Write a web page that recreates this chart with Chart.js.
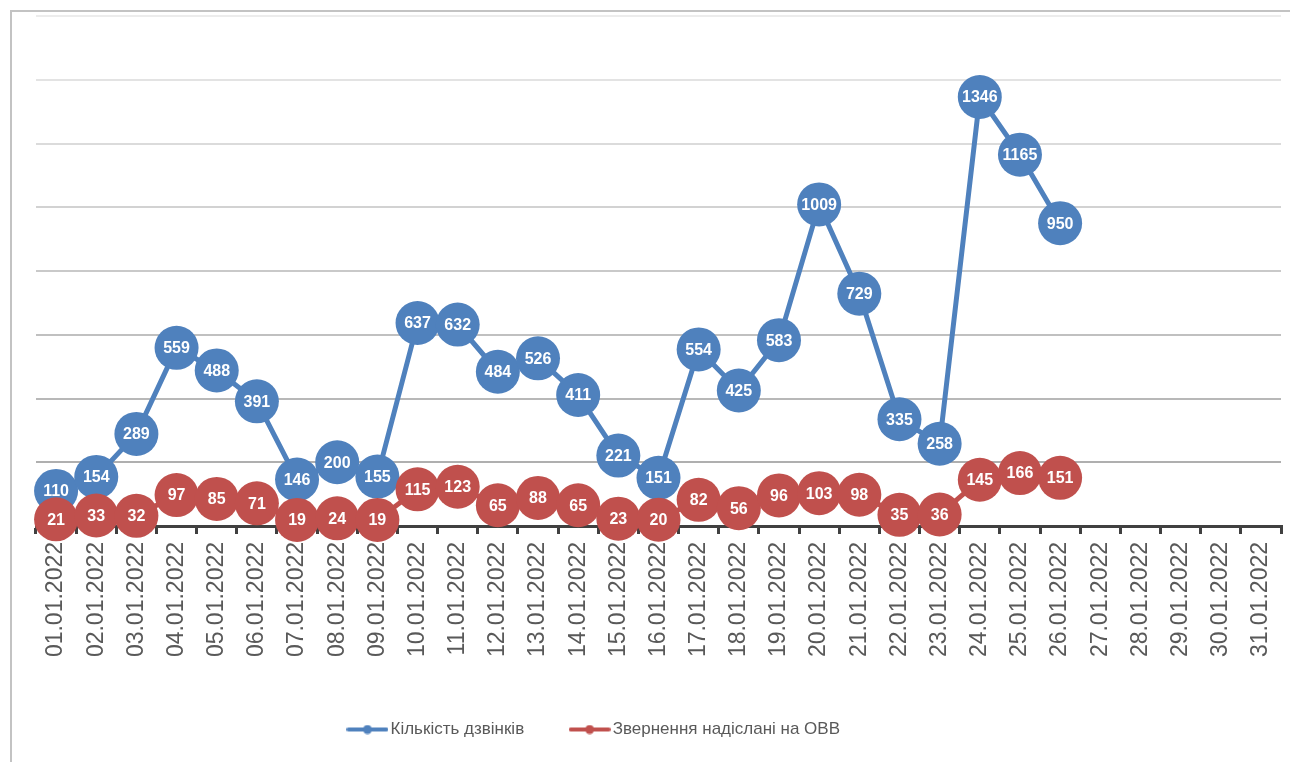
<!DOCTYPE html>
<html>
<head>
<meta charset="utf-8">
<script src="https://cdn.jsdelivr.net/npm/chart.js@4.4.1/dist/chart.umd.min.js"></script>
<style>
    html, body { margin: 0; padding: 0; background: #fff; }
    #frame {
        position: absolute; left: 10px; top: 10px;
        width: 1278px; height: 750px;
        border-left: 2px solid #c3c3c3; border-top: 2px solid #c3c3c3;
    }
    #chart { display: block; }
</style>
</head>
<body>
<div id="frame"><canvas id="chart" width="1278" height="750"></canvas></div>
<script>
// dati
const giorni = [
    '01.01.2022', '02.01.2022', '03.01.2022', '04.01.2022', '05.01.2022', '06.01.2022', '07.01.2022', '08.01.2022',
    '09.01.2022', '10.01.2022', '11.01.2022', '12.01.2022', '13.01.2022', '14.01.2022', '15.01.2022', '16.01.2022',
    '17.01.2022', '18.01.2022', '19.01.2022', '20.01.2022', '21.01.2022', '22.01.2022', '23.01.2022', '24.01.2022',
    '25.01.2022', '26.01.2022', '27.01.2022', '28.01.2022', '29.01.2022', '30.01.2022', '31.01.2022'
];
const dzvinky = [110, 154, 289, 559, 488, 391, 146, 200, 155, 637, 632, 484, 526, 411, 221, 151,
    554, 425, 583, 1009, 729, 335, 258, 1346, 1165, 950, null, null, null, null, null];
const zvernennia = [21, 33, 32, 97, 85, 71, 19, 24, 19, 115, 123, 65, 88, 65, 23, 20,
    82, 56, 96, 103, 98, 35, 36, 145, 166, 151, null, null, null, null, null];
const yMax = 1600;
const yStep = 200;

const BLU = '#4f81bd';
const ROSSO = '#c0504d';

// simbolo legenda: linea con pallino
function simbolo(colore) {
    const c = document.createElement('canvas');
    c.width = 42; c.height = 10;
    const g = c.getContext('2d');
    g.strokeStyle = colore;
    g.lineWidth = 4;
    g.lineCap = 'round';
    g.beginPath(); g.moveTo(2, 5); g.lineTo(40, 5); g.stroke();
    g.fillStyle = colore;
    g.beginPath(); g.arc(21, 5, 4.5, 0, Math.PI * 2); g.fill();
    return c;
}

// etichette dentro i pallini
const etichette = {
    id: 'etichette',
    afterDatasetDraw(chart, args) {
        const ctx = chart.ctx;
        const ds = chart.data.datasets[args.index];
        ctx.save();
        ctx.font = 'bold 16px "Liberation Sans", Arial, sans-serif';
        ctx.fillStyle = '#fff';
        ctx.textAlign = 'center';
        ctx.textBaseline = 'middle';
        args.meta.data.forEach((p, i) => {
            const v = ds.data[i];
            if (v === null || v === undefined) return;
            ctx.fillText(String(v), p.x, p.y + 1);
        });
        ctx.restore();
    }
};

// sposta la legenda come nell'originale
const spostaLegenda = {
    id: 'spostaLegenda',
    afterLayout(chart) {
        const l = chart.legend;
        if (!l) return;
        l.left -= 62;
        l.right -= 62;
    }
};

function grigio(v) {
    const g = Math.round(166 + (v / yMax) * (236 - 166));
    return `rgb(${g},${g},${g})`;
}

const ctx = document.getElementById('chart').getContext('2d');
new Chart(ctx, {
    type: 'line',
    data: {
        labels: giorni,
        datasets: [{
            label: 'Кількість дзвінків',
            data: dzvinky,
            borderColor: BLU,
            backgroundColor: BLU,
            pointBackgroundColor: BLU,
            pointBorderColor: BLU,
            borderWidth: 5,
            pointRadius: 22,
            pointBorderWidth: 0,
            pointStyle: 'circle',
            tension: 0,
            clip: false,
            order: 2
        }, {
            label: 'Звернення надіслані на ОВВ',
            data: zvernennia,
            borderColor: ROSSO,
            backgroundColor: ROSSO,
            pointBackgroundColor: ROSSO,
            pointBorderColor: ROSSO,
            borderWidth: 5,
            pointRadius: 22,
            pointBorderWidth: 0,
            pointStyle: 'circle',
            tension: 0,
            clip: false,
            order: 1
        }]
    },
    options: {
        responsive: false,
        animation: false,
        layout: { autoPadding: false, padding: { left: 24, right: 9, top: 4, bottom: 14 } },
        plugins: {
            tooltip: { enabled: false },
            legend: {
                position: 'bottom',
                labels: {
                    usePointStyle: true,
                    pointStyleWidth: 29,
                    padding: 51,
                    color: '#595959',
                    font: { family: '"Liberation Sans", Arial, sans-serif', size: 17 },
                    generateLabels(chart) {
                        return chart.data.datasets.map((d, i) => ({
                            text: d.label,
                            fontColor: '#595959',
                            pointStyle: simbolo(d.borderColor),
                            lineWidth: 0,
                            strokeStyle: 'transparent',
                            fillStyle: d.borderColor,
                            hidden: false,
                            datasetIndex: i
                        }));
                    }
                }
            }
        },
        scales: {
            x: {
                offset: true,
                grid: {
                    display: true,
                    drawOnChartArea: false,
                    drawTicks: true,
                    tickLength: 8,
                    color: '#404040',
                    lineWidth: 3,
                    offset: true
                },
                border: { display: true, color: '#404040', width: 3 },
                ticks: {
                    autoSkip: false,
                    minRotation: 90,
                    maxRotation: 90,
                    padding: 8,
                    color: '#595959',
                    font: { family: '"Liberation Sans", Arial, sans-serif', size: 23 }
                },
                afterFit(scale) {
                    scale.height = 144;
                    scale.paddingLeft = 0;
                    scale.paddingRight = 0;
                }
            },
            y: {
                min: 0,
                max: yMax,
                ticks: { display: false, stepSize: yStep },
                border: { display: false },
                grid: {
                    drawTicks: false,
                    lineWidth: 2,
                    color: c => c.tick.value === 0 ? 'transparent' : grigio(c.tick.value)
                },
                afterFit(scale) { scale.width = 0; }
            }
        }
    },
    plugins: [etichette, spostaLegenda]
});
</script>
</body>
</html>
